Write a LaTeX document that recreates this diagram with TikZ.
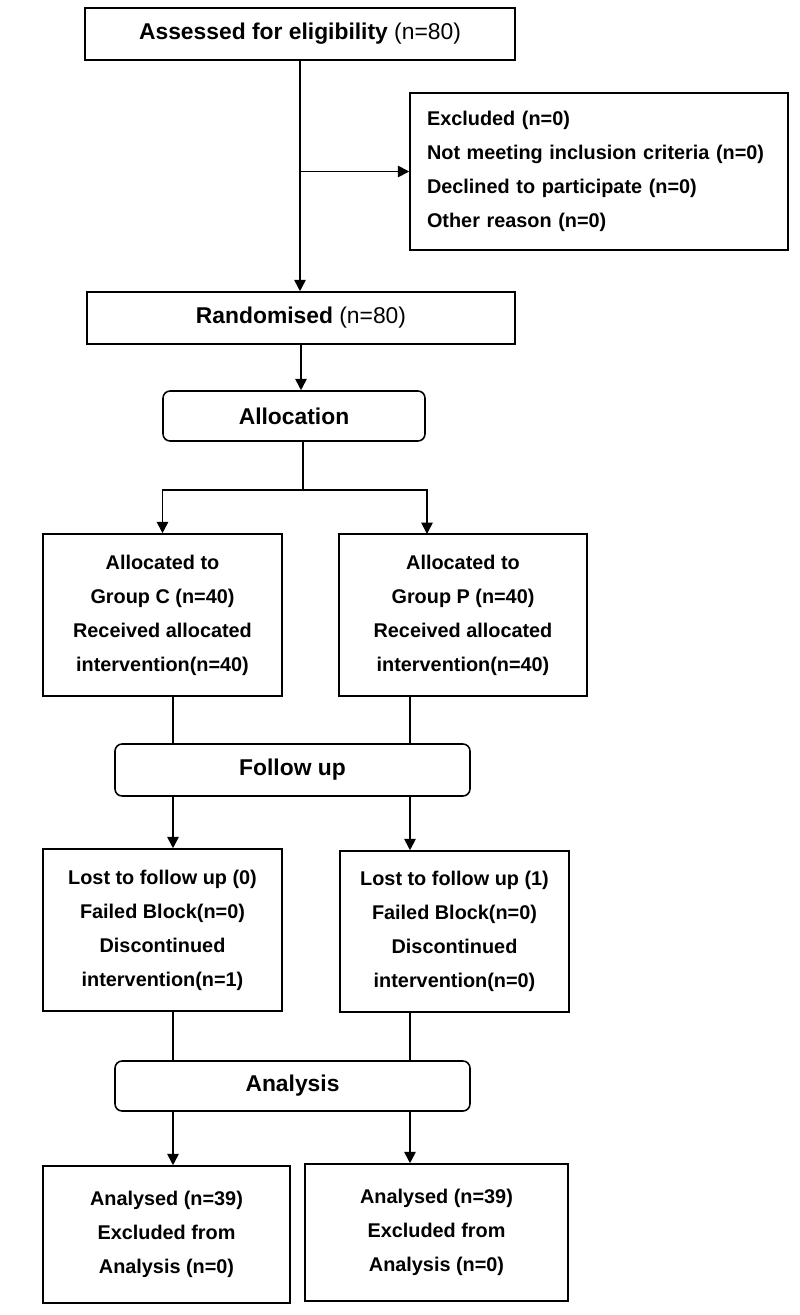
\documentclass[tikz,border=0pt]{standalone}
\usepackage{fontspec}
\setmainfont{Liberation Sans}
\usetikzlibrary{positioning,arrows.meta,calc}

\tikzset{
  box/.style={draw, line width=0.9pt, inner sep=0pt, align=center,
    font=\fontsize{11.3}{19.3}\selectfont\bfseries},
  headbox/.style={draw, line width=0.9pt, inner sep=0pt,
    font=\fontsize{13}{15}\selectfont},
  stage/.style={headbox, rounded corners=4pt, font=\fontsize{13}{15}\selectfont\bfseries},
  arr/.style={-{Triangle[length=6.5pt,width=6.5pt]}, line width=1pt},
  ln/.style={line width=1pt}
}

\begin{document}
\begin{tikzpicture}[x=0.02cm,y=-0.02cm]
        \useasboundingbox (0,0) rectangle (800,1315);

        % enrolment
        \node[headbox, minimum width=8.6cm, minimum height=1.04cm] (assess) at (300,34)
            {\textbf{Assessed for eligibility} (n=80)};
        \node[box, align=left, text width=6.88cm, minimum width=7.56cm, minimum height=3.14cm] (excl) at (599,171.5)
            {Excluded (n=0)\\ Not meeting inclusion criteria (n=0)\\ Declined to participate (n=0)\\ Other reason (n=0)};
        \node[headbox, minimum width=8.56cm, minimum height=1.04cm] (rand) at (301,318)
            {\textbf{Randomised} (n=80)};

        % allocation
        \node[stage, minimum width=5.24cm, minimum height=1cm] (alloc) at (294,416) {Allocation};
        \node[box, minimum width=4.78cm, minimum height=3.24cm] (grpC) at (162.5,615)
            {Allocated to\\ Group C (n=40)\\ Received allocated\\ intervention(n=40)};
        \node[box, minimum width=4.96cm, minimum height=3.24cm] (grpP) at (463,615)
            {Allocated to\\ Group P (n=40)\\ Received allocated\\ intervention(n=40)};

        % follow up
        \node[stage, minimum width=7.1cm, minimum height=1.04cm] (fu) at (292.5,770) {Follow up};
        \node[box, minimum width=4.78cm, minimum height=3.24cm] (lostC) at (162.5,930)
            {Lost to follow up (0)\\ Failed Block(n=0)\\ Discontinued\\ intervention(n=1)};
        \node[box, minimum width=4.58cm, minimum height=3.22cm] (lostP) at (454.5,931.5)
            {Lost to follow up (1)\\ Failed Block(n=0)\\ Discontinued\\ intervention(n=0)};

        % analysis
        \node[stage, minimum width=7.1cm, minimum height=1cm] (an) at (292.5,1086) {Analysis};
        \node[box, minimum width=4.94cm, minimum height=2.74cm] (resC) at (166.5,1234.5)
            {Analysed (n=39)\\ Excluded from\\ Analysis (n=0)};
        \node[box, minimum width=5.26cm, minimum height=2.74cm] (resP) at (436.5,1232.5)
            {Analysed (n=39)\\ Excluded from\\ Analysis (n=0)};

        \coordinate (split) at (303,490);
        \coordinate (pinP) at (427,534);
        \coordinate (colL) at (173,0);
        \coordinate (colR) at (410,0);

        \draw[arr] (assess.south) -- (assess.south |- rand.north);
        \draw[arr] (assess.south |- excl.west) -- (excl.west);
        \draw[arr] (rand.south) -- (rand.south |- alloc.north);
        \draw[ln] (alloc.south -| split) -- (split);
        \draw[arr] (split) -| (grpC.north);
        \draw[arr] (split) -| (pinP);

        \draw[ln] (grpC.south -| colL) -- (fu.north -| colL);
        \draw[ln] (grpP.south -| colR) -- (fu.north -| colR);
        \draw[arr] (fu.south -| colL) -- (lostC.north -| colL);
        \draw[arr] (fu.south -| colR) -- (lostP.north -| colR);

        \draw[ln] (lostC.south -| colL) -- (an.north -| colL);
        \draw[ln] (lostP.south -| colR) -- (an.north -| colR);
        \draw[arr] (an.south -| colL) -- (resC.north -| colL);
        \draw[arr] (an.south -| colR) -- (resP.north -| colR);
\end{tikzpicture}
\end{document}
